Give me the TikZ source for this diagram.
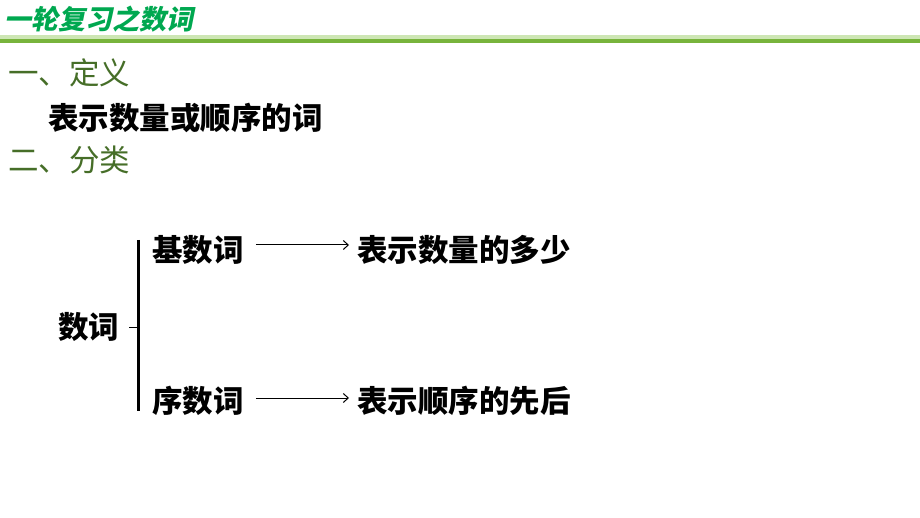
\documentclass[tikz,border=0pt]{standalone}
\usepackage{fontspec}
\usepackage{xcolor}
\usepackage{tikz}
\usetikzlibrary{arrows.meta}
\newfontfamily\heiti{Noto Sans CJK SC}[BoldFont={Noto Sans CJK SC Black}]
\newfontfamily\titlefont{Noto Sans CJK SC Black}[FakeSlant=0.2]
\definecolor{titlegreen}{RGB}{0,168,80}
\definecolor{headgreen}{RGB}{70,110,40}
\definecolor{barlight}{RGB}{205,230,180}
\definecolor{bardark}{RGB}{120,180,60}

\begin{document}
\begin{tikzpicture}[x=1pt,y=-1pt,
	big/.style={font=\heiti\bfseries\fontsize{30.5}{30.5}\selectfont,inner sep=0pt,anchor=west},
	head/.style={font=\heiti\fontsize{30.5}{30.5}\selectfont,text=headgreen,inner sep=0pt,anchor=west},
	link/.style={-{Straight Barb[length=5pt,width=9pt]},line width=1pt}]
	\useasboundingbox (0,0) rectangle (920,518);
	% title bar
	\fill[barlight] (0,35) rectangle (920,39);
	\fill[bardark] (0,39) rectangle (920,43);
	\node[font=\titlefont\fontsize{27}{27}\selectfont,text=titlegreen,inner sep=0pt,anchor=west]
		(title) at (4,19) {一轮复习之数词};
	% headings
	\node[head] (def) at (8,73) {一、定义};
	\node[big] (deftext) at (48,118) {表示数量或顺序的词};
	\node[head] (cls) at (8,160) {二、分类};
	% tree
	\node[big] (num) at (58,327) {数词};
	\node[big] (card) at (152,250) {基数词};
	\node[big] (ord) at (152,401) {序数词};
	\node[big] (cardtext) at (357,250) {表示数量的多少};
	\node[big] (ordtext) at (357,401) {表示顺序的先后};
	\coordinate (top) at (138,240);
	\coordinate (bot) at (138,411);
	\draw[line width=3pt] (top) -- (bot);
	\draw[line width=1pt] ([xshift=10pt]num.east) -- (num.east -| top);
	\draw[link] ([xshift=12pt,yshift=5pt]card.east) -- ([xshift=-8pt,yshift=5pt]cardtext.west);
	\draw[link] ([xshift=12pt,yshift=3pt]ord.east) -- ([xshift=-8pt,yshift=3pt]ordtext.west);
\end{tikzpicture}
\end{document}
